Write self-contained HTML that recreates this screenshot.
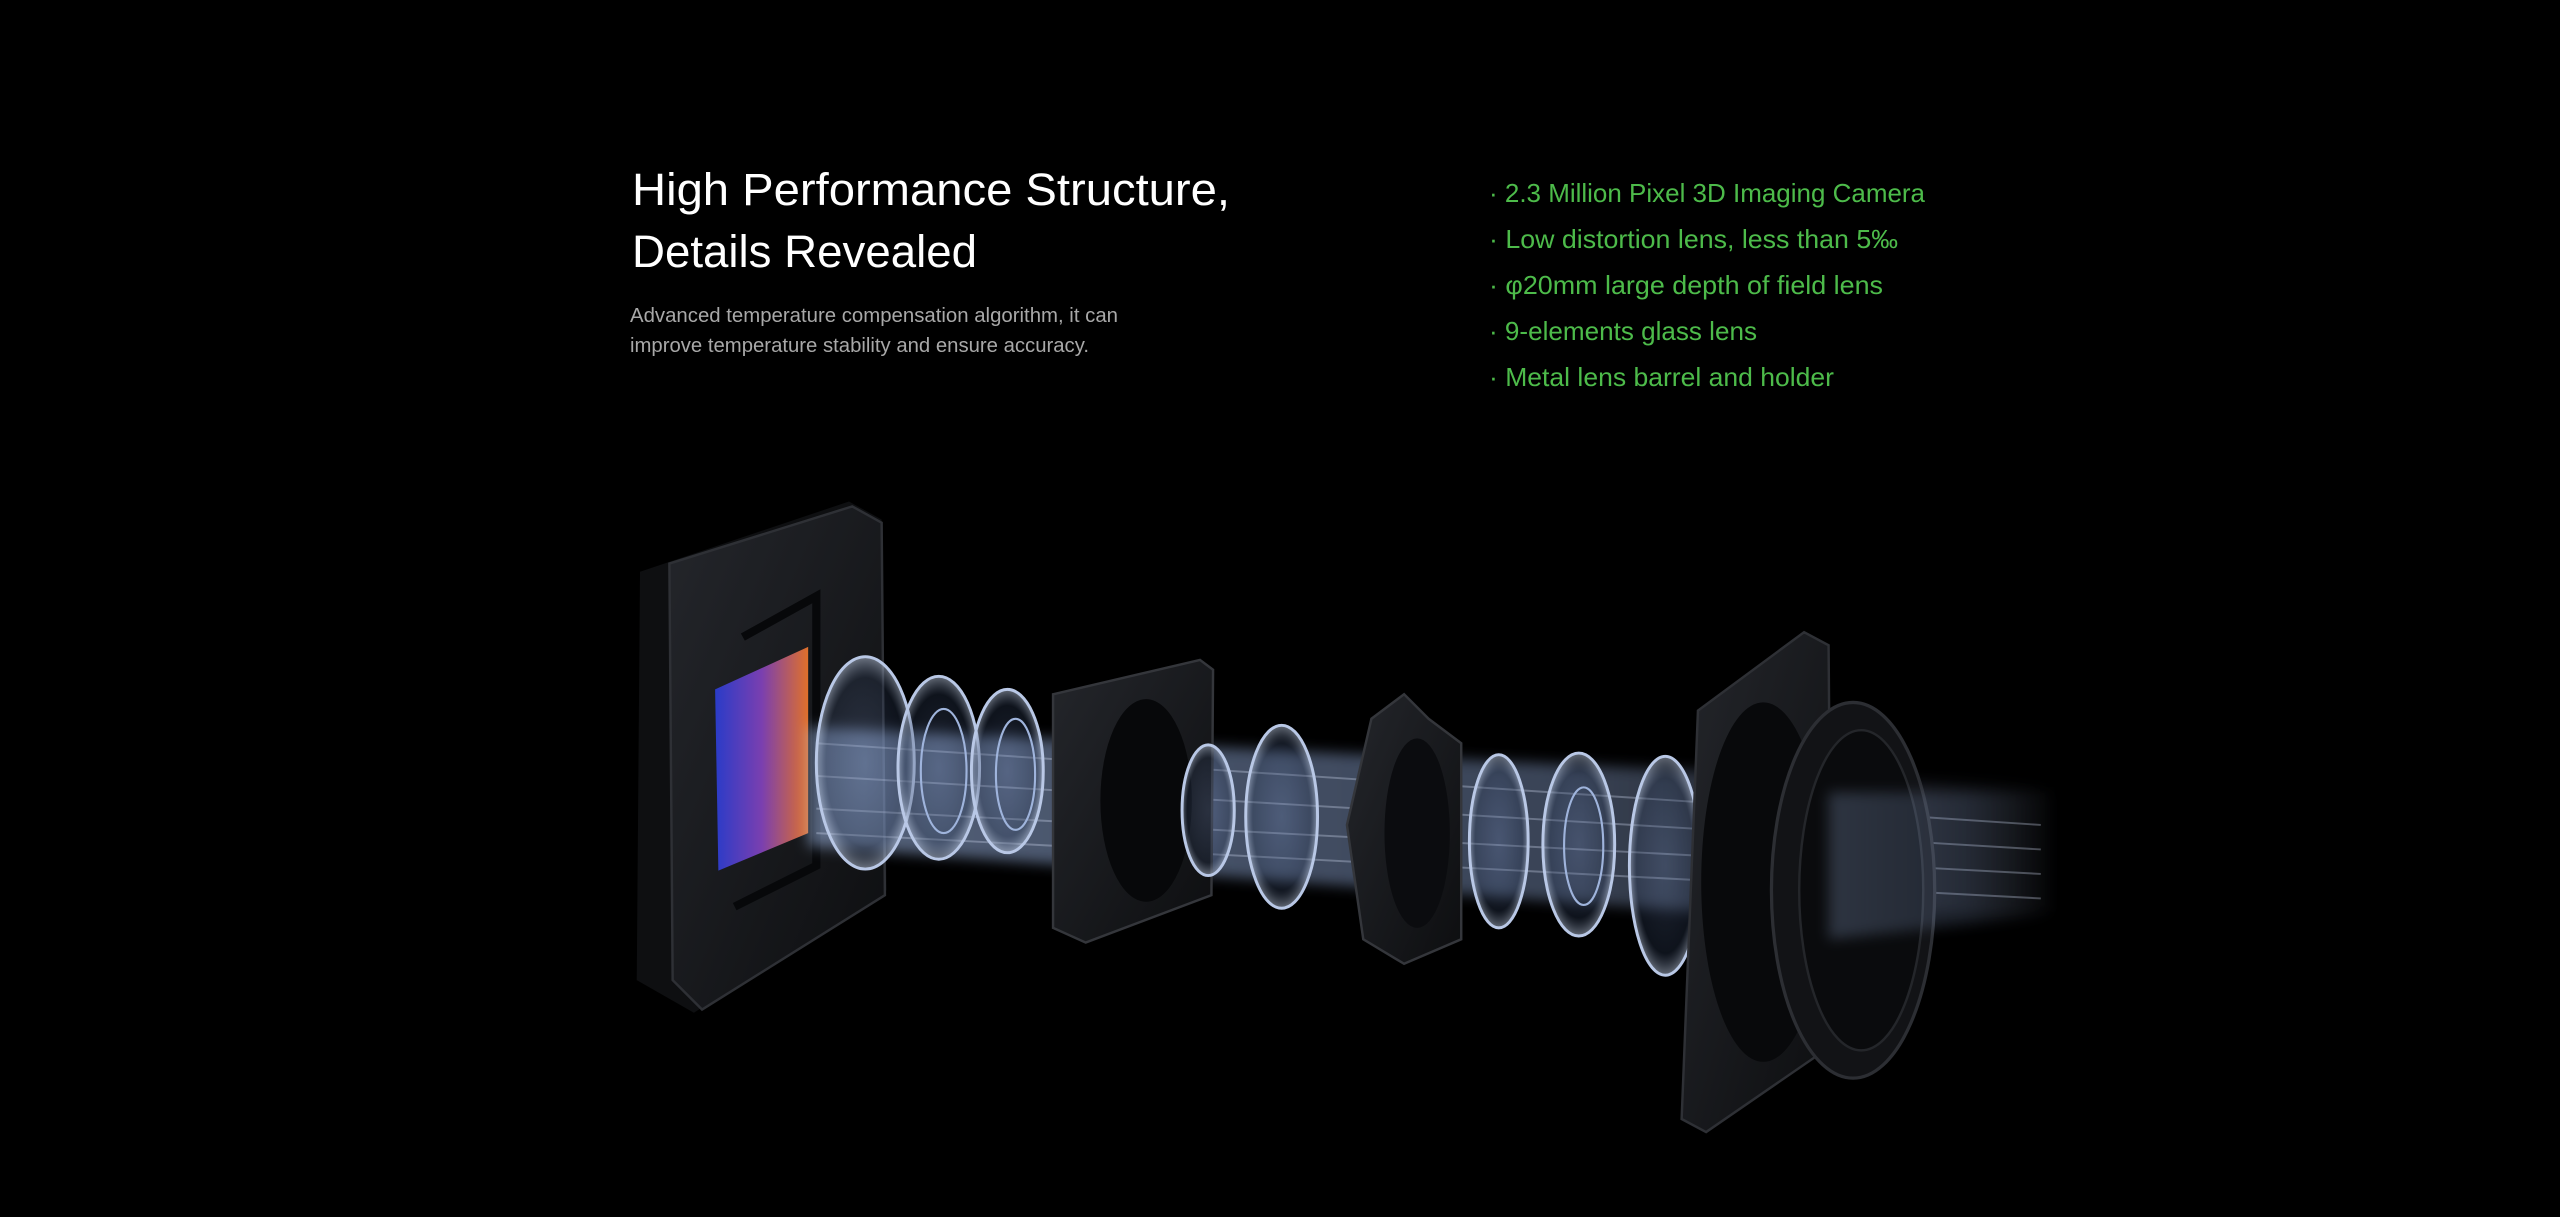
<!DOCTYPE html>
<html><head><meta charset="utf-8"><style>
html,body{margin:0;padding:0;background:#000;}
body{width:2560px;height:1217px;overflow:hidden;position:relative;}
svg{position:absolute;left:0;top:0;}
</style></head><body>
<svg width="2560" height="1217" viewBox="0 0 1568 745" preserveAspectRatio="none">
<defs>
<linearGradient id="sens" x1="0" y1="0" x2="1" y2="0">
<stop offset="0" stop-color="#2a3cc8"/><stop offset="0.5" stop-color="#7a3fb0"/><stop offset="1" stop-color="#e0702a"/></linearGradient>
<linearGradient id="beam" x1="0" y1="0" x2="1" y2="0">
<stop offset="0" stop-color="#a9c4f5" stop-opacity="0.5"/><stop offset="0.6" stop-color="#8fa8d8" stop-opacity="0.4"/><stop offset="1" stop-color="#c8d8ff" stop-opacity="0"/></linearGradient>
<radialGradient id="glass" cx="0.5" cy="0.5" r="0.5">
<stop offset="0" stop-color="#6f86b8" stop-opacity="0.25"/><stop offset="0.8" stop-color="#30405e" stop-opacity="0.3"/><stop offset="1" stop-color="#c8d6ee" stop-opacity="0.5"/></radialGradient>
<linearGradient id="metal" x1="0" y1="0" x2="1" y2="1">
<stop offset="0" stop-color="#24262b"/><stop offset="1" stop-color="#0d0e10"/></linearGradient>
<filter id="bl"><feGaussianBlur stdDeviation="4"/></filter>
</defs>
<!-- sensor holder -->
<path d="M392,350 L520,307 L540,318 L543,545 L425,620 L390,600 Z" fill="#0e0f11"/>
<path d="M410,345 L522,310 L540,320 L542,548 L430,618 L412,600 Z" fill="url(#metal)" stroke="#2e3035" stroke-width="1.5"/>
<path d="M438,422 L495,396 L495,510 L440,533 Z" fill="url(#sens)"/>
<path d="M455,390 L500,365 L500,530 L450,555" fill="none" stroke="#07080a" stroke-width="5"/>
<!-- beam -->
<path d="M495,445 L1040,472 L1260,482 L1260,558 L1040,558 L495,518 Z" fill="url(#beam)" filter="url(#bl)"/>
<path d="M500,455 L1250,505 M500,475 L1250,520 M500,495 L1250,535 M500,510 L1250,550" stroke="#dde8ff" stroke-opacity="0.3" stroke-width="1.2" fill="none"/>
<!-- first lenses -->
<ellipse cx="530" cy="467" rx="30" ry="65" fill="url(#glass)" stroke="#b9c8e6" stroke-width="1.8"/>
<ellipse cx="575" cy="470" rx="25" ry="56" fill="url(#glass)" stroke="#b9c8e6" stroke-width="1.8"/>
<ellipse cx="578" cy="472" rx="14" ry="38" fill="none" stroke="#9fb4dc" stroke-width="1.3"/>
<ellipse cx="617" cy="472" rx="22" ry="50" fill="url(#glass)" stroke="#b9c8e6" stroke-width="1.8"/>
<ellipse cx="622" cy="474" rx="12" ry="34" fill="none" stroke="#9fb4dc" stroke-width="1.3"/>
<!-- bracket -->
<path d="M645,425 L735,404 L743,410 L742,548 L665,577 L645,568 Z" fill="url(#metal)" stroke="#34363b" stroke-width="1.5"/>
<ellipse cx="702" cy="490" rx="28" ry="62" fill="#07080a"/>
<!-- middle lenses -->
<ellipse cx="740" cy="496" rx="16" ry="40" fill="url(#glass)" stroke="#b9c8e6" stroke-width="1.8"/>
<ellipse cx="785" cy="500" rx="22" ry="56" fill="url(#glass)" stroke="#b9c8e6" stroke-width="1.8"/>
<!-- ring -->
<path d="M840,440 L860,425 L875,440 L895,455 L895,575 L860,590 L835,575 L825,505 Z" fill="url(#metal)" stroke="#34363b" stroke-width="1.5"/>
<ellipse cx="868" cy="510" rx="20" ry="58" fill="#0b0c0f"/>
<ellipse cx="918" cy="515" rx="18" ry="53" fill="url(#glass)" stroke="#b9c8e6" stroke-width="1.8"/>
<ellipse cx="967" cy="517" rx="22" ry="56" fill="url(#glass)" stroke="#b9c8e6" stroke-width="1.8"/>
<ellipse cx="970" cy="518" rx="12" ry="36" fill="none" stroke="#9fb4dc" stroke-width="1.3"/>
<ellipse cx="1020" cy="530" rx="22" ry="67" fill="url(#glass)" stroke="#b9c8e6" stroke-width="1.8"/>
<!-- front holder -->
<path d="M1040,435 L1105,387 L1120,395 L1122,640 L1045,693 L1030,685 Z" fill="url(#metal)" stroke="#2e3035" stroke-width="1.5"/>
<ellipse cx="1080" cy="540" rx="38" ry="110" fill="#08090b"/>
<!-- front ring -->
<ellipse cx="1135" cy="545" rx="50" ry="115" fill="#121316" stroke="#2c2e33" stroke-width="2"/>
<ellipse cx="1140" cy="545" rx="38" ry="98" fill="#0a0b0d" stroke="#24262a" stroke-width="1.5"/>
<path d="M1120,485 L1260,485 L1260,560 L1120,575 Z" fill="url(#beam)" opacity="0.45" filter="url(#bl)"/>
</svg>
<svg width="2560" height="1217" viewBox="0 0 2560 1217" style="font-family:'Liberation Sans',sans-serif">
<text x="632" y="205" font-size="45" fill="#fff" textLength="598" lengthAdjust="spacingAndGlyphs">High Performance Structure,</text>
<text x="632" y="267" font-size="45" fill="#fff" textLength="345" lengthAdjust="spacingAndGlyphs">Details Revealed</text>
<text x="630" y="322" font-size="20" fill="#a8a8a8" textLength="488" lengthAdjust="spacingAndGlyphs">Advanced temperature compensation algorithm, it can</text>
<text x="630" y="352" font-size="20" fill="#a8a8a8" textLength="459" lengthAdjust="spacingAndGlyphs">improve temperature stability and ensure accuracy.</text>
<g font-size="26" fill="#4dbb4a">
<text x="1489" y="202" textLength="436" lengthAdjust="spacingAndGlyphs">· 2.3 Million Pixel 3D Imaging Camera</text>
<text x="1489" y="248" textLength="409" lengthAdjust="spacingAndGlyphs">· Low distortion lens, less than 5‰</text>
<text x="1489" y="294" textLength="394" lengthAdjust="spacingAndGlyphs">· φ20mm large depth of field lens</text>
<text x="1489" y="340" textLength="268" lengthAdjust="spacingAndGlyphs">· 9-elements glass lens</text>
<text x="1489" y="386" textLength="345" lengthAdjust="spacingAndGlyphs">· Metal lens barrel and holder</text>
</g>
</svg>
</body></html>
